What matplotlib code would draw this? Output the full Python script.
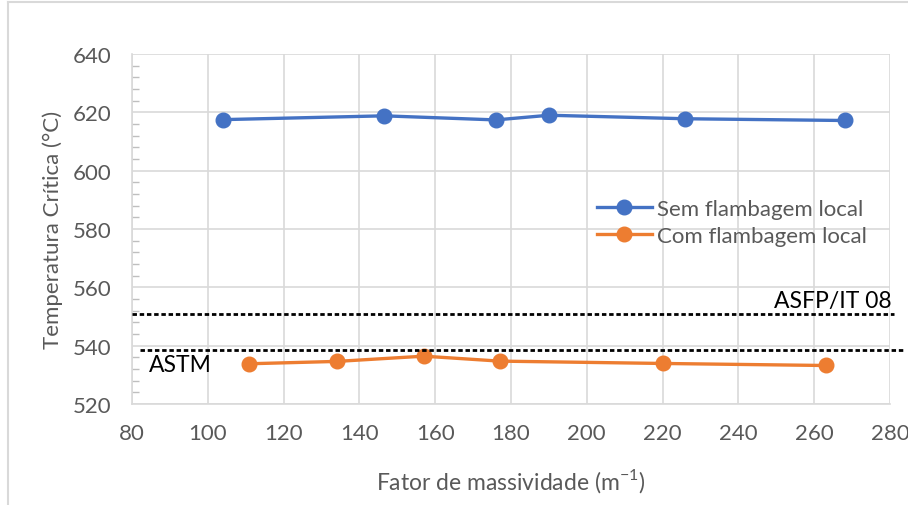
import numpy as np
import matplotlib.pyplot as plt
from matplotlib.lines import Line2D
from matplotlib.ticker import MultipleLocator

plt.rcParams['font.family'] = ['Lato', 'DejaVu Sans']

# ===================== 数据 =====================
x_sem = [104, 146.5, 176, 190, 226, 268]
t_sem = [617.5, 618.8, 617.4, 619.0, 617.8, 617.2]

x_com = [111, 134, 157, 177, 220, 263]
t_com = [533.8, 534.6, 536.4, 534.7, 533.9, 533.2]

ref_names = ["ASFP/IT 08", "ASTM"]
ref_temps = [551.0, 538.5]
ref_xspan = [(80, 281), (82.2, 284)]

blue = "#4472C4"
orange = "#ED7D31"
gray_txt = "#595959"
grid_c = "#D9D9D9"

fig = plt.figure(figsize=(9.08, 5.06), dpi=100)
ax = fig.add_axes([132 / 908, 1 - 405 / 506, 758 / 908, 350 / 506])

ax.plot(x_sem, t_sem, color=blue, lw=2.4, marker="o", ms=10.5, label="Sem flambagem local", zorder=4)
ax.plot(x_com, t_com, color=orange, lw=2.4, marker="o", ms=10.5, label="Com flambagem local", zorder=4)

# 参考线（超出绘图区）
for (x0, x1), t in zip(ref_xspan, ref_temps):
    ax.plot([x0, x1], [t, t], color="black", lw=2.0, ls=(0, (1.6, 1.0)), clip_on=False, zorder=5)
ax.text(280.5, ref_temps[0] + 1.0, ref_names[0], ha="right", va="bottom", fontsize=16.5, color="black")
ax.text(84.5, ref_temps[1] - 1.5, ref_names[1], ha="left", va="top", fontsize=16.5, color="black")

ax.set_xlim(80, 280)
ax.set_ylim(520, 640)
ax.xaxis.set_major_locator(MultipleLocator(20))
ax.yaxis.set_major_locator(MultipleLocator(20))
ax.yaxis.set_minor_locator(MultipleLocator(4))
ax.grid(True, which="major", color=grid_c, lw=1.2)
ax.set_axisbelow(True)

for s in ["top", "right"]:
    ax.spines[s].set_visible(False)
ax.spines["left"].set_color(grid_c)
ax.spines["bottom"].set_color(grid_c)
ax.spines["left"].set_linewidth(1.2)
ax.spines["bottom"].set_linewidth(1.2)

ax.tick_params(axis="x", length=0, pad=14, labelsize=16, labelcolor=gray_txt)
ax.tick_params(axis="y", which="major", length=0, pad=15, labelsize=16, labelcolor=gray_txt)
ax.tick_params(axis="y", which="minor", direction="in", length=5, color="#BFBFBF", width=1)

ax.set_xlabel("Fator de massividade (m$^{\\mathregular{-1}}$)", fontsize=16.5, color=gray_txt, labelpad=16)
ax.set_ylabel("Temperatura Crítica (°C)", fontsize=16, color=gray_txt, labelpad=7)

leg = ax.legend(loc="upper left", bbox_to_anchor=(0.613, 0.585), frameon=False, fontsize=16,
                handlelength=2.5, handletextpad=0.2, labelspacing=0.3, borderaxespad=0, borderpad=0)
for t in leg.get_texts():
    t.set_color(gray_txt)

# 图表区边框
fig.add_artist(Line2D([8 / 908, 8 / 908], [0, 1 - 3 / 506], color=grid_c, lw=1.5))
fig.add_artist(Line2D([8 / 908, 1], [1 - 3 / 506, 1 - 3 / 506], color=grid_c, lw=1.5))

plt.savefig("out.png", dpi=100)
plt.close()
